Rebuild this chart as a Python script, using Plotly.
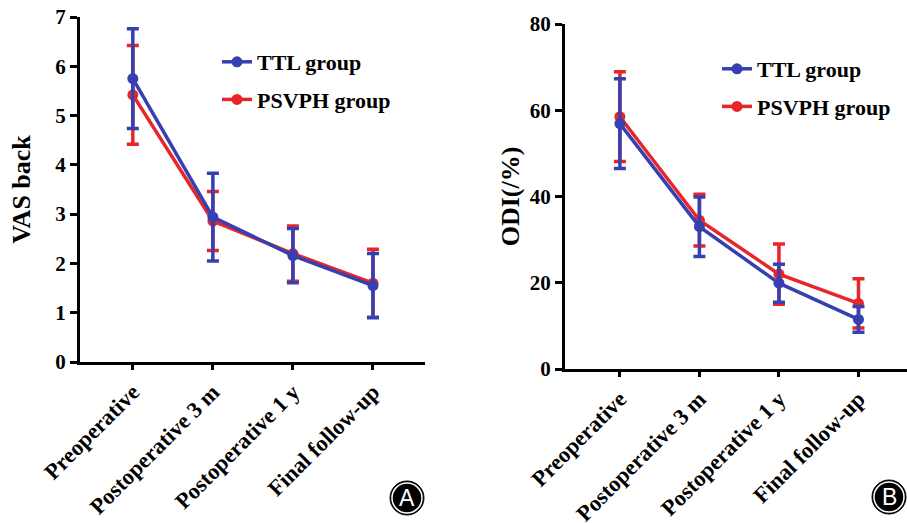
import plotly.graph_objects as go

categories = ["Preoperative", "Postoperative 3 m", "Postoperative 1 y", "Final follow-up"]

vas_ttl = [5.75, 2.94, 2.16, 1.55]
vas_ttl_sd = [1.01, 0.89, 0.55, 0.65]
vas_psvph = [5.42, 2.86, 2.20, 1.60]
vas_psvph_sd = [1.00, 0.60, 0.56, 0.69]

odi_ttl = [56.9, 33.0, 19.9, 11.5]
odi_ttl_sd = [10.4, 6.9, 4.4, 3.0]
odi_psvph = [58.5, 34.5, 22.0, 15.2]
odi_psvph_sd = [10.4, 6.0, 7.0, 5.7]

BLUE = "#3640B0"
RED = "#E8262A"
FONT = "Liberation Serif"
W, H = 907, 523

xs = list(range(len(categories)))
fig = go.Figure()


def add(y, sd, color, name, xa, ya, legend):
    fig.add_trace(go.Scatter(
        x=xs, y=y, name=name, mode="lines+markers",
        line=dict(color=color, width=3.5),
        marker=dict(color=color, size=11),
        error_y=dict(type="data", array=sd, visible=True, color=color, thickness=3.5, width=6),
        xaxis=xa, yaxis=ya, legend=legend, showlegend=True,
        legendgroup=name, legendrank=1 if name.startswith("TTL") else 2,
    ))


add(vas_psvph, vas_psvph_sd, RED, "PSVPH group", "x", "y", "legend")
add(vas_ttl, vas_ttl_sd, BLUE, "TTL group", "x", "y", "legend")
add(odi_psvph, odi_psvph_sd, RED, "PSVPH group", "x2", "y2", "legend2")
add(odi_ttl, odi_ttl_sd, BLUE, "TTL group", "x2", "y2", "legend2")


def px_x(p):
    return p / W


def px_y(p):
    return 1 - p / H


def bfont(size, color="black", family=FONT):
    return dict(family=family, size=size, color=color, weight="bold")


axis_common = dict(showline=True, linecolor="black", linewidth=3, showgrid=False, zeroline=False,
                   ticks="outside", tickcolor="black", tickwidth=3, mirror=False, automargin=False)
xcommon = dict(axis_common, tickvals=xs, ticktext=categories, tickangle=-45, ticklen=5,
               tickfont=bfont(22.5))
ycommon = dict(axis_common, ticklen=7, tickfont=bfont(21))

legend_common = dict(xanchor="left", yanchor="top", bgcolor="rgba(0,0,0,0)", font=bfont(22),
                     tracegroupgap=6, itemwidth=30, traceorder="grouped")

fig.update_layout(
    width=W, height=H, margin=dict(l=0, r=0, t=0, b=0, autoexpand=False),
    paper_bgcolor="white", plot_bgcolor="white",
    xaxis=dict(xcommon, domain=[px_x(80), px_x(425)], range=[-0.66, 3.65], anchor="y"),
    yaxis=dict(ycommon, domain=[px_y(362), px_y(17)], range=[0, 7], dtick=1, anchor="x",
               title=dict(text="VAS back", font=bfont(26), standoff=18)),
    xaxis2=dict(xcommon, domain=[px_x(565), 1.0], range=[-0.69, 3.61], anchor="y2"),
    yaxis2=dict(ycommon, domain=[px_y(369), px_y(24)], range=[0, 80], dtick=20, anchor="x2",
                title=dict(text="ODI(/%)", font=bfont(26), standoff=3)),
    legend=dict(legend_common, x=px_x(217), y=px_y(41)),
    legend2=dict(legend_common, x=px_x(717), y=px_y(48)),
)

for cx, cy, letter in [(407, 498, "A"), (889, 497, "B")]:
    r = 17
    fig.add_shape(type="circle", xref="paper", yref="paper",
                  x0=px_x(cx - r), x1=px_x(cx + r), y0=px_y(cy + r), y1=px_y(cy - r),
                  fillcolor="black", line=dict(color="black", width=1))
    r2 = 15
    fig.add_shape(type="circle", xref="paper", yref="paper",
                  x0=px_x(cx - r2), x1=px_x(cx + r2), y0=px_y(cy + r2), y1=px_y(cy - r2),
                  fillcolor="black", line=dict(color="white", width=1.5))
    fig.add_annotation(x=px_x(cx), y=px_y(cy), xref="paper", yref="paper", text=letter,
                       showarrow=False, xanchor="center", yanchor="middle",
                       font=dict(family="Liberation Sans", size=23, color="white"))

fig.write_html("out.html", config={"displayModeBar": False},
               post_script="document.body.style.margin='0';")
